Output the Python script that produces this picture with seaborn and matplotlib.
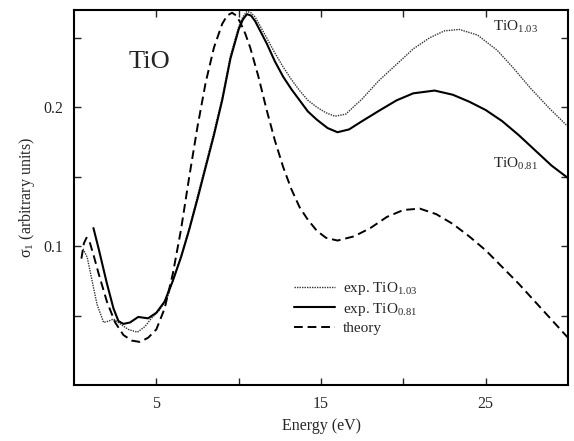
import numpy as np
import pandas as pd
import matplotlib
matplotlib.use("Agg")
import matplotlib.pyplot as plt
import seaborn as sns

# ---- data ----
e_theory = [0.45, 0.6, 0.76, 0.95, 1.2, 1.5, 2.0, 2.5, 3.0, 3.5, 4.0, 4.5, 5.0, 5.5,
            6.0, 6.5, 7.0, 7.5, 8.0, 8.5, 9.0, 9.3, 9.6, 9.85, 10.1, 10.4, 10.7, 11.2, 11.7, 12.2,
            12.7, 13.2, 13.7, 14.2, 14.75, 15.3, 16.0, 17.0, 18.0, 19.0, 20.0,
            21.0, 22.0, 23.0, 24.0, 25.0, 26.0, 27.0, 28.0, 29.0, 30.0]
s_theory = [0.091, 0.102, 0.106, 0.103, 0.093, 0.080, 0.060, 0.045, 0.036, 0.032,
            0.031, 0.034, 0.040, 0.055, 0.080, 0.112, 0.150, 0.186, 0.218, 0.243,
            0.260, 0.266, 0.268, 0.266, 0.261, 0.253, 0.243, 0.222, 0.198, 0.176, 0.157, 0.141, 0.128,
            0.119, 0.111, 0.106, 0.104, 0.107, 0.113, 0.121, 0.126, 0.127, 0.123,
            0.116, 0.107, 0.097, 0.085, 0.073, 0.060, 0.047, 0.034]

e_081 = [1.18, 1.5, 2.0, 2.4, 2.7, 3.0, 3.4, 3.9, 4.5, 5.0, 5.5, 6.0, 6.5, 7.0,
         7.5, 8.0, 8.5, 9.0, 9.5, 10.0, 10.25, 10.5, 10.75, 11.0, 11.7, 12.2, 12.7, 13.2, 13.7,
         14.2, 14.75, 15.4, 16.0, 16.7, 17.5, 18.6, 19.6, 20.6, 21.9, 23.0, 24.0,
         25.0, 26.0, 27.0, 28.0, 29.0, 30.0]
s_081 = [0.113, 0.098, 0.073, 0.055, 0.046, 0.044, 0.045, 0.049, 0.048, 0.052,
         0.060, 0.075, 0.092, 0.112, 0.134, 0.157, 0.180, 0.205, 0.235, 0.256,
         0.263, 0.267, 0.266, 0.262, 0.246, 0.233, 0.222, 0.213, 0.205, 0.197, 0.191, 0.185,
         0.182, 0.184, 0.190, 0.198, 0.205, 0.210, 0.212, 0.209, 0.204, 0.198,
         0.190, 0.180, 0.169, 0.158, 0.149]

e_103 = [0.55, 0.8, 1.1, 1.4, 1.8, 2.1, 2.4, 2.8, 3.3, 3.85, 4.3, 4.7, 5.2, 5.7,
         6.0, 6.5, 7.0, 7.5, 8.0, 8.5, 9.0, 9.5, 10.0, 10.25, 10.5, 10.75, 11.0, 11.7, 12.2,
         12.7, 13.2, 13.7, 14.2, 14.75, 15.3, 15.85, 16.5, 17.5, 18.5, 19.6, 20.6,
         21.6, 22.5, 23.4, 24.5, 25.7, 26.7, 27.7, 28.8, 30.0]
s_103 = [0.098, 0.092, 0.075, 0.058, 0.045, 0.046, 0.0475, 0.044, 0.040, 0.038,
         0.042, 0.048, 0.054, 0.064, 0.075, 0.093, 0.113, 0.136, 0.159, 0.182,
         0.207, 0.237, 0.258, 0.265, 0.269, 0.268, 0.265, 0.250, 0.239, 0.229, 0.220, 0.212,
         0.205, 0.200, 0.196, 0.1935, 0.195, 0.206, 0.219, 0.231, 0.242, 0.250,
         0.255, 0.256, 0.252, 0.241, 0.228, 0.214, 0.200, 0.186]

x_ticks = [5, 10, 15, 20, 25]
x_tick_labels = ["5", "", "15", "", "25"]
y_ticks = [0.05, 0.10, 0.15, 0.20, 0.25]
y_tick_labels = ["", "0.1", "", "0.2", ""]

# ---- style ----
sns.set_style("ticks")
plt.rcParams["font.family"] = ["Liberation Serif", "DejaVu Serif"]
plt.rcParams["mathtext.fontset"] = "custom"
plt.rcParams["mathtext.rm"] = "Liberation Serif"
plt.rcParams["mathtext.it"] = "Liberation Serif:italic"

fig = plt.figure(figsize=(5.74, 4.41), dpi=100)
ax = fig.add_axes([74 / 574, 1 - 385 / 441, (568 - 74) / 574, (385 - 10) / 441])

df103 = pd.DataFrame({"E": e_103, "s": s_103})
df081 = pd.DataFrame({"E": e_081, "s": s_081})
dfth = pd.DataFrame({"E": e_theory, "s": s_theory})

sns.lineplot(data=df103, x="E", y="s", ax=ax, estimator=None, sort=False,
             color="#333333", linewidth=1.0, linestyle=(0, (1, 0.8)),
             label="exp. TiO$_{\\mathrm{1.03}}$")
sns.lineplot(data=df081, x="E", y="s", ax=ax, estimator=None, sort=False,
             color="black", linewidth=1.5, linestyle="-",
             label="exp. TiO$_{\\mathrm{0.81}}$")
sns.lineplot(data=dfth, x="E", y="s", ax=ax, estimator=None, sort=False,
             color="black", linewidth=1.4, linestyle=(0, (4.5, 2.5)),
             label="theory")

ax.set_xlim(0, 30)
ax.set_ylim(0, 0.27)
ax.set_xticks(x_ticks)
ax.set_xticklabels(x_tick_labels)
ax.set_yticks(y_ticks)
ax.set_yticklabels(y_tick_labels)
ax.tick_params(direction="in", top=True, right=True, length=5, width=1,
               labelsize=11.5, pad=8)
for sp in ax.spines.values():
    sp.set_linewidth(1.5)
    sp.set_color("black")

ax.set_xlabel("Energy (eV)", fontsize=11.5, labelpad=4)
ax.set_ylabel("σ$_1$ (arbitrary units)", fontsize=11.5, labelpad=4)

ax.text(0.11, 0.861, "TiO", transform=ax.transAxes, fontsize=19, va="center", ha="left")
ax.text(0.848, 0.955, "TiO$_{\\mathrm{1.03}}$", transform=ax.transAxes, fontsize=11,
        va="center", ha="left")
ax.text(0.848, 0.59, "TiO$_{\\mathrm{0.81}}$", transform=ax.transAxes, fontsize=11,
        va="center", ha="left")

leg = ax.legend(loc="upper left", bbox_to_anchor=(0.445, 0.28), frameon=False,
                fontsize=11, handlelength=2.7, handletextpad=0.5,
                labelspacing=0.25, borderpad=0, borderaxespad=0)

fig.savefig("out.png", dpi=100)
